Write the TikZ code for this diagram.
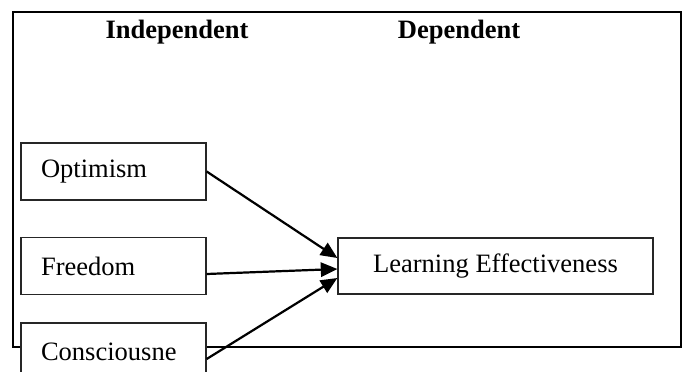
\documentclass[tikz,border=0pt]{standalone}
\usepackage{fontspec}
\setmainfont{Liberation Serif}
\usetikzlibrary{arrows.meta,calc}
\begin{document}
\begin{tikzpicture}[x=0.4525pt, y=-0.4525pt,
  every node/.style={font=\fontsize{12}{14}\selectfont},
  varbox/.style={draw=black!85, line width=0.6pt, fill=white, minimum width=83.7pt, minimum height=25.8pt, text width=65.6pt, align=left, inner xsep=9.05pt, inner ysep=0pt},
  head/.style={font=\fontsize{12}{14}\selectfont\bfseries, anchor=base},
  link/.style={-{Triangle[length=7.5pt,width=6.5pt]}, line width=1pt}]
\clip (0,0) rectangle (684,371);
% frame
\draw[line width=1pt] (13,12) rectangle (681,347);
\node[head] (indep) at (177,38) {Independent};
\node[head] (dep) at (459,38) {Dependent};
% variables
\node[varbox] (opt) at (113.5,171.5) {Optimism};
\node[varbox] (free) at (113.5,266) {Freedom};
\node[varbox] (cons) at (113.5,351.5) {Consciousne};
\node[draw=black!85, line width=0.6pt, fill=white, minimum width=142.5pt, minimum height=25.3pt] (learn) at (495.5,266) {Learning Effectiveness};
% links
\draw[link] (opt.east) -- ($(learn.west)+(0,-8)$);
\draw[link] ($(free.east)+(0,8)$) -- ($(learn.west)+(0,3)$);
\draw[link] ($(cons.east)+(0,7.5)$) -- ($(learn.west)+(0,12)$);
\end{tikzpicture}
\end{document}
